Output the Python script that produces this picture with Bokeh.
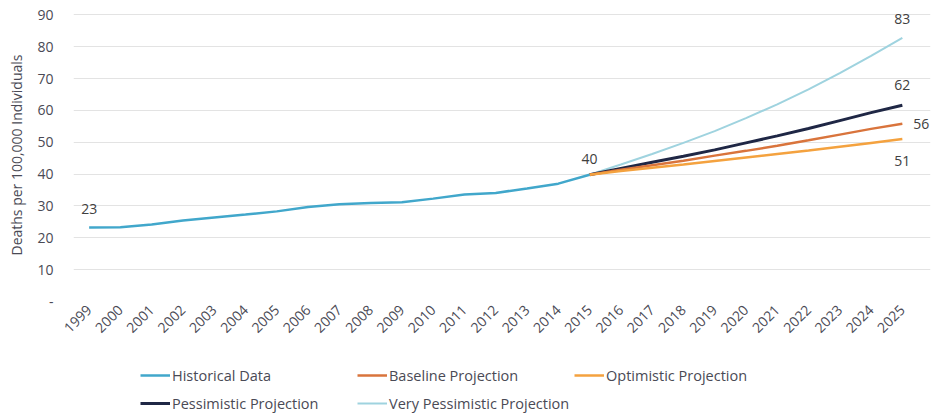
import math
from bokeh.plotting import figure
from bokeh.layouts import column
from bokeh.models import Range1d, FixedTicker, Legend, LegendItem, Label
from bokeh.embed import file_html
from bokeh.resources import INLINE

# ---- data ----
hist_years = list(range(1999, 2016))
historical = [23.2, 23.3, 24.2, 25.4, 26.4, 27.3, 28.3, 29.7, 30.5, 30.9, 31.2,
              32.3, 33.6, 34.1, 35.5, 37.0, 39.8]
proj_years = list(range(2015, 2026))
baseline = [39.8, 41.4, 42.8, 44.2, 45.8, 47.3, 48.9, 50.6, 52.4, 54.2, 55.8]
optimistic = [39.8, 41.0, 42.0, 43.0, 44.1, 45.2, 46.3, 47.4, 48.6, 49.8, 51.0]
pessimistic = [39.8, 41.8, 43.7, 45.6, 47.6, 49.8, 52.0, 54.3, 56.8, 59.3, 61.6]
very_pessimistic = [39.8, 43.0, 46.3, 49.8, 53.5, 57.6, 61.9, 66.6, 71.7, 77.1, 82.8]
all_years = list(range(1999, 2026))
y_ticks = [0, 10, 20, 30, 40, 50, 60, 70, 80, 90]
series_names = ["Historical Data", "Baseline Projection", "Optimistic Projection",
                "Pessimistic Projection", "Very Pessimistic Projection"]

FONT = "Open Sans"
TXT = "#4a4a55"
COLORS = {"Historical Data": "#41a7cb", "Baseline Projection": "#d9743c",
          "Optimistic Projection": "#f4a23f", "Pessimistic Projection": "#1f2745",
          "Very Pessimistic Projection": "#9fd3df"}
WIDTHS = {"Historical Data": 2.5, "Baseline Projection": 2.5,
          "Optimistic Projection": 2.5, "Pessimistic Projection": 3,
          "Very Pessimistic Projection": 2}
SERIES = {"Historical Data": (hist_years, historical),
          "Baseline Projection": (proj_years, baseline),
          "Optimistic Projection": (proj_years, optimistic),
          "Pessimistic Projection": (proj_years, pessimistic),
          "Very Pessimistic Projection": (proj_years, very_pessimistic)}

p = figure(width=944, height=358, output_backend="svg", toolbar_location=None,
           x_range=Range1d(1998.5, 2025.9), y_range=Range1d(0, 92),
           min_border_left=73, min_border_right=14, min_border_top=8,
           min_border_bottom=57)
p.outline_line_color = None
p.background_fill_color = "white"

p.xgrid.grid_line_color = None
p.ygrid.grid_line_color = "#e3e3e3"
p.ygrid.grid_line_width = 1

p.xaxis.ticker = FixedTicker(ticks=all_years)
p.yaxis.ticker = FixedTicker(ticks=y_ticks)
p.yaxis.major_label_overrides = {0: "-"}
for ax in (p.xaxis[0], p.yaxis[0]):
    ax.axis_line_color = None
    ax.major_tick_line_color = None
    ax.minor_tick_line_color = None
    ax.major_tick_out = 0
    ax.major_label_text_font = FONT
    ax.major_label_text_font_size = "14px"
    ax.major_label_text_color = TXT
p.xaxis.major_label_orientation = math.pi / 4
p.xaxis.major_label_standoff = 6
p.yaxis.major_label_standoff = 20
p.yaxis.axis_label = "Deaths per 100,000 Individuals"
p.yaxis.axis_label_text_font = FONT
p.yaxis.axis_label_text_font_size = "14px"
p.yaxis.axis_label_text_font_style = "normal"
p.yaxis.axis_label_text_color = TXT
p.yaxis.axis_label_standoff = 8

def draw(fig, name):
    xs, ys = SERIES[name]
    return fig.line(xs, ys, line_color=COLORS[name], line_width=WIDTHS[name])

for n in [series_names[4], series_names[3], series_names[1], series_names[2],
          series_names[0]]:
    draw(p, n)

def add_label(x, y, xo, yo):
    p.add_layout(Label(x=x, y=y, text=f"{round(y):.0f}", x_offset=xo, y_offset=yo,
                       text_align="center", text_baseline="middle",
                       text_font=FONT, text_font_size="14px", text_color="#404040"))

add_label(hist_years[0], historical[0], 0, 19)
add_label(hist_years[-1], historical[-1], 0, 16)
add_label(proj_years[-1], very_pessimistic[-1], 0, 19)
add_label(proj_years[-1], pessimistic[-1], 0, 20)
add_label(proj_years[-1], baseline[-1], 19, 0)
add_label(proj_years[-1], optimistic[-1], 0, -22)

# ---- legend strip below the chart (series drawn out of its view) ----
lg = figure(width=944, height=60, output_backend="svg", toolbar_location=None,
            x_axis_type=None, y_axis_type=None,
            x_range=Range1d(0, 1), y_range=Range1d(0, 1),
            min_border_left=0, min_border_right=0, min_border_top=0,
            min_border_bottom=0)
lg.outline_line_color = None
lg.grid.grid_line_color = None
items = [LegendItem(label=n, renderers=[draw(lg, n)]) for n in series_names]
legend = Legend(items=items, orientation="horizontal", ncols=3, location=(67, 3),
                glyph_width=30, glyph_height=24, label_height=24, label_standoff=2,
                label_width=181, spacing=4, padding=0, margin=0,
                border_line_color=None, background_fill_alpha=0,
                label_text_font=FONT, label_text_font_size="14.5px",
                label_text_color=TXT)
lg.add_layout(legend, "center")

layout = column(p, lg, spacing=0)
open("out.html", "w").write(file_html(layout, INLINE))
